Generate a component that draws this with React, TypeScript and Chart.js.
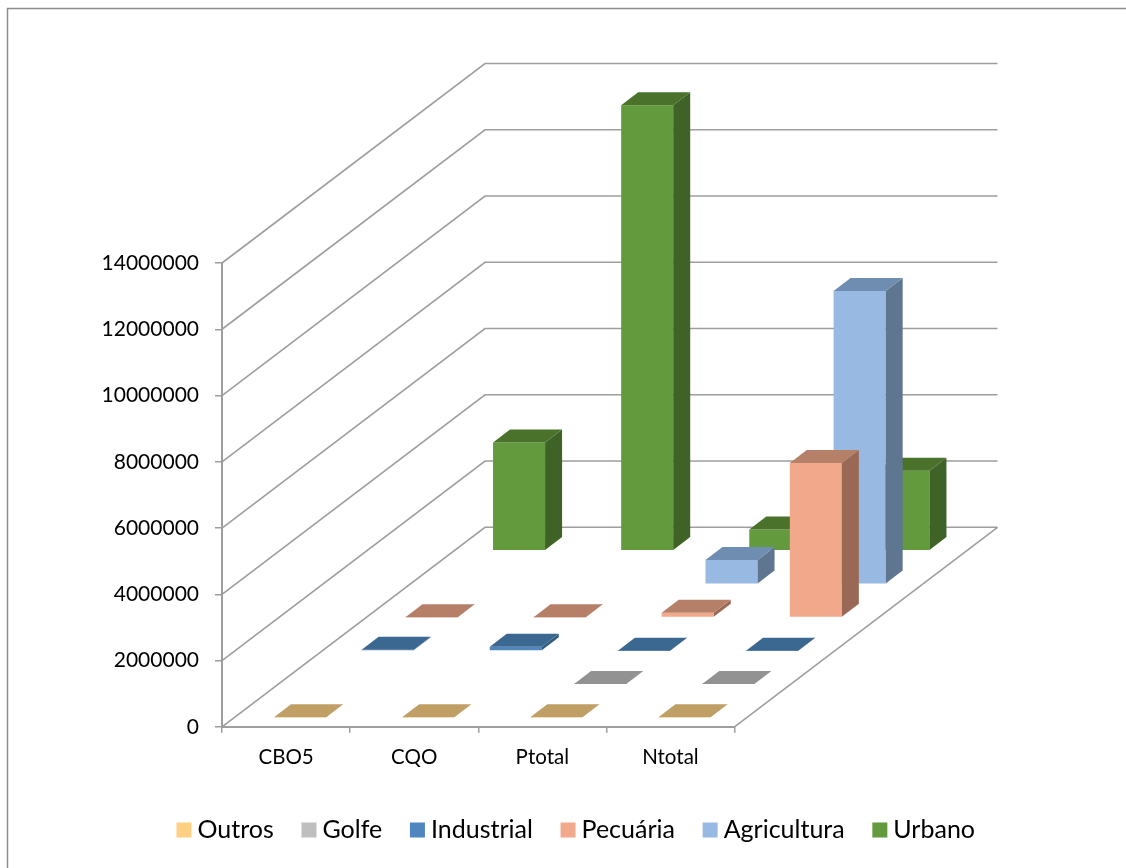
import { useEffect, useRef } from "react";
import { Chart, registerables } from "chart.js";

Chart.register(...registerables);

const categories = ["CBO5", "CQO", "Ptotal", "Ntotal"];
const outros = [15000, 15000, 15000, 15000];
const golfe = [null, null, 10000, 10000];
const industrial = [40000, 130000, 10000, 10000];
const pecuaria = [10000, 10000, 150000, 4670000];
const agricultura = [null, null, 730000, 8850000];
const urbano = [3270000, 13450000, 640000, 2420000];

const FONT = "Lato, Carlito, sans-serif";
const GRID = "#9e9e9e";

// Depth of the floor, of one series slot, and of one bar
const WALL_DX = 263;
const WALL_DY = 199.5;
const SLOT_DX = 43.8;
const SLOT_DY = 33.4;
const FIRST_DX = 14;
const FIRST_DY = 9;
const BAR_DX = 17;
const BAR_DY = 13;

const faces = [
  { front: "#FFCF82", top: "#BF9F64", side: "#A98B57" },
  { front: "#BFBFBF", top: "#929292", side: "#7F7F7F" },
  { front: "#4F86BD", top: "#3B6890", side: "#345C80" },
  { front: "#F2A88A", top: "#B68068", side: "#996955" },
  { front: "#98B9E2", top: "#6F8DB0", side: "#5F7690" },
  { front: "#629A3D", top: "#4A722B", side: "#3F6226" },
];

const depthPlugin = {
  id: "depth",
  afterLayout(chart: any) {
    // Legend sits a little higher and to the right of the canvas centre
    const legend = chart.legend;
    legend.left += 16;
    legend.right += 16;
    legend.top -= 15.5;
    legend.bottom -= 15.5;
  },
  beforeDatasetsDraw(chart: any) {
    const { ctx, scales } = chart;
    const y = scales.y;
    const left = scales.x.left;
    const right = scales.x.right;
    ctx.save();
    ctx.strokeStyle = GRID;
    ctx.lineWidth = 1.6;
    // Side wall and back wall grid lines follow the value ticks
    y.ticks.forEach((t: any) => {
      const py = y.getPixelForValue(t.value);
      ctx.beginPath();
      ctx.moveTo(left, py);
      ctx.lineTo(left + WALL_DX, py - WALL_DY);
      ctx.lineTo(right + WALL_DX, py - WALL_DY);
      ctx.stroke();
    });
    const y0 = y.getPixelForValue(0);
    ctx.beginPath();
    ctx.moveTo(right, y0);
    ctx.lineTo(right + WALL_DX, y0 - WALL_DY);
    ctx.stroke();
    // Outer frame of the chart
    ctx.strokeStyle = "#8e8e8e";
    ctx.lineWidth = 1.5;
    ctx.beginPath();
    ctx.moveTo(7.5, chart.height);
    ctx.lineTo(7.5, 8.5);
    ctx.lineTo(chart.width, 8.5);
    ctx.stroke();
    ctx.restore();
  },
  beforeDatasetDraw(chart: any, args: any) {
    const { ctx } = chart;
    ctx.save();
    ctx.translate(
      FIRST_DX + args.index * SLOT_DX,
      -(FIRST_DY + args.index * SLOT_DY),
    );
  },
  afterDatasetDraw(chart: any, args: any) {
    const { ctx } = chart;
    const face = faces[args.index];
    const values = chart.data.datasets[args.index].data;
    args.meta.data.forEach((bar: any, i: number) => {
      if (values[i] == null) return;
      const l = bar.x - bar.width / 2;
      const r = bar.x + bar.width / 2;
      const t = bar.y;
      const b = bar.base;
      ctx.fillStyle = face.side;
      ctx.beginPath();
      ctx.moveTo(r, t);
      ctx.lineTo(r + BAR_DX, t - BAR_DY);
      ctx.lineTo(r + BAR_DX, b - BAR_DY);
      ctx.lineTo(r, b);
      ctx.closePath();
      ctx.fill();
      ctx.fillStyle = face.top;
      ctx.beginPath();
      ctx.moveTo(l, t);
      ctx.lineTo(r, t);
      ctx.lineTo(r + BAR_DX, t - BAR_DY);
      ctx.lineTo(l + BAR_DX, t - BAR_DY);
      ctx.closePath();
      ctx.fill();
    });
    ctx.restore();
  },
};

export default function App() {
  const ref = useRef<HTMLCanvasElement>(null);

  useEffect(() => {
    const series = [
      ["Outros", outros],
      ["Golfe", golfe],
      ["Industrial", industrial],
      ["Pecuária", pecuaria],
      ["Agricultura", agricultura],
      ["Urbano", urbano],
    ] as const;

    const chart = new Chart(ref.current as HTMLCanvasElement, {
      type: "bar",
      data: {
        labels: categories,
        datasets: series.map(([label, data], i) => ({
          label,
          data: [...data],
          backgroundColor: faces[i].front,
          borderWidth: 0,
          grouped: false,
          clip: false,
          categoryPercentage: 1,
          barPercentage: 52 / 128,
        })) as any,
      },
      plugins: [depthPlugin],
      options: {
        responsive: false,
        animation: false,
        layout: { padding: { top: 263, right: 0, left: 0, bottom: 0 } },
        scales: {
          x: {
            offset: true,
            afterFit(s: any) {
              s.height = 72;
            },
            border: { color: GRID, width: 2 },
            grid: {
              offset: true,
              drawOnChartArea: false,
              drawTicks: true,
              tickLength: 6,
              color: GRID,
              lineWidth: 1.5,
            },
            ticks: {
              color: "#000",
              padding: 12,
              font: { family: FONT, size: 20.5 },
              maxRotation: 0,
            },
          },
          y: {
            min: 0,
            max: 14000000,
            afterFit(s: any) {
              s.width = 222;
            },
            border: { color: GRID, width: 2 },
            grid: {
              drawOnChartArea: false,
              drawTicks: true,
              tickLength: 7,
              color: GRID,
              lineWidth: 1.5,
            },
            ticks: {
              stepSize: 2000000,
              color: "#000",
              padding: 16,
              font: { family: FONT, size: 21 },
              callback: (v: any) => String(v),
            },
          },
          // Empty axis that reserves the room taken by the depth of the floor
          depthRoom: {
            position: "right",
            afterFit(s: any) {
              s.width = 391.5;
            },
            border: { display: false },
            grid: { display: false },
            ticks: { display: false },
          },
        },
        plugins: {
          title: { display: false },
          tooltip: { enabled: false },
          legend: {
            position: "bottom",
            labels: {
              color: "#000",
              font: { family: FONT, size: 25 },
              usePointStyle: true,
              pointStyle: "rect",
              boxWidth: 2,
              boxHeight: 15,
              padding: 34.2,
            },
          },
        },
      },
    });
    return () => chart.destroy();
  }, []);

  return (
    <canvas
      ref={ref}
      width={1126}
      height={868}
      style={{ position: "absolute", left: 0, top: 0, display: "block" }}
    />
  );
}
